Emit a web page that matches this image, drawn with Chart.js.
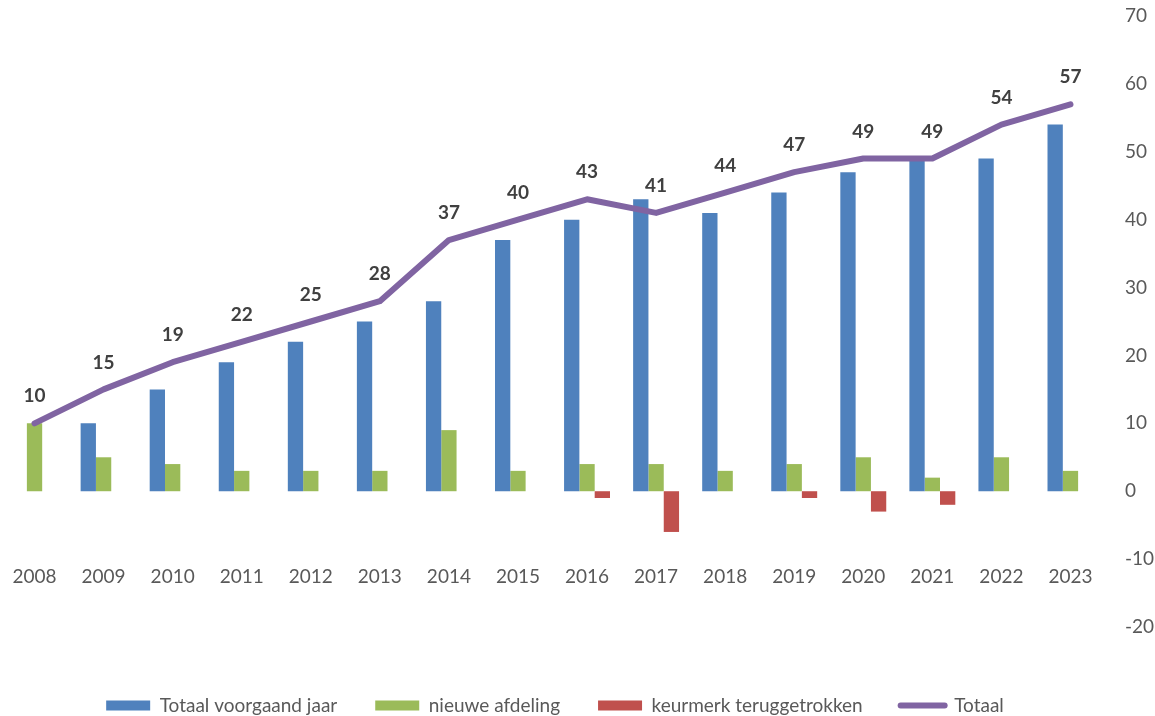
<!DOCTYPE html>
<html>
<head>
<meta charset="utf-8">
<script src="https://cdn.jsdelivr.net/npm/chart.js@4"></script>
<style>
  html, body { margin: 0; padding: 0; background: #ffffff; }
  #wrap { width: 1155px; height: 716px; position: relative; }
</style>
</head>
<body>
<div id="wrap"><canvas id="c" width="1155" height="716"></canvas></div>
<script>
const years = ['2008','2009','2010','2011','2012','2013','2014','2015','2016','2017','2018','2019','2020','2021','2022','2023'];
const totaalVoorgaandJaar = [0, 10, 15, 19, 22, 25, 28, 37, 40, 43, 41, 44, 47, 49, 49, 54];
const nieuweAfdeling = [10, 5, 4, 3, 3, 3, 9, 3, 4, 4, 3, 4, 5, 2, 5, 3];
const keurmerkTeruggetrokken = [null, null, null, null, null, null, null, null, -1, -6, null, -1, -3, -2, null, null];
const totaal = [10, 15, 19, 22, 25, 28, 37, 40, 43, 41, 44, 47, 49, 49, 54, 57];
const seriesNames = ['Totaal voorgaand jaar', 'nieuwe afdeling', 'keurmerk teruggetrokken', 'Totaal'];
const yTicks = { min: -20, max: 70, step: 10 };

const FONT = 'Lato, "Liberation Sans", sans-serif';
const TXT = '#595959';

const lineLabels = {
  id: 'lineLabels',
  afterDatasetsDraw(chart) {
    const ctx = chart.ctx;
    const meta = chart.getDatasetMeta(3);
    if (!meta || meta.hidden) return;
    ctx.save();
    ctx.font = 'bold 19px ' + FONT;
    ctx.fillStyle = '#404040';
    ctx.textAlign = 'center';
    ctx.textBaseline = 'middle';
    meta.data.forEach((pt, i) => {
      ctx.fillText(String(totaal[i]), pt.x, pt.y - 27);
    });
    ctx.restore();
  }
};

new Chart(document.getElementById('c'), {
  data: {
    labels: years,
    datasets: [
      { type: 'bar', label: seriesNames[0], data: totaalVoorgaandJaar, backgroundColor: '#4F81BD', order: 1, xAxisID: 'x', yAxisID: 'y' },
      { type: 'bar', label: seriesNames[1], data: nieuweAfdeling, backgroundColor: '#9BBB59', order: 1, xAxisID: 'x', yAxisID: 'y' },
      { type: 'bar', label: seriesNames[2], data: keurmerkTeruggetrokken, backgroundColor: '#C0504D', order: 1, xAxisID: 'x', yAxisID: 'y' },
      { type: 'line', label: seriesNames[3], data: totaal, borderColor: '#8064A2', backgroundColor: '#8064A2',
        borderWidth: 6, pointRadius: 0, borderCapStyle: 'round', borderJoinStyle: 'round', tension: 0, order: 0, xAxisID: 'x', yAxisID: 'y' }
    ]
  },
  options: {
    responsive: false,
    animation: false,
    layout: { padding: { top: 16, left: -45, right: 0, bottom: -9 } },
    datasets: { bar: { categoryPercentage: 0.665, barPercentage: 1.0, borderWidth: 0 } },
    scales: {
      x: {
        position: { y: -10.3 },
        offset: true,
        grid: { display: false, drawTicks: false },
        border: { display: false },
        ticks: { color: TXT, font: { family: FONT, size: 19 }, padding: 4, maxRotation: 0, autoSkip: false }
      },
      xSpace: {
        type: 'category',
        position: 'bottom',
        offset: true,
        grid: { display: false, drawTicks: false },
        border: { display: false },
        ticks: { display: false },
        afterFit(scale) { scale.height = 31; }
      },
      ySpace: {
        type: 'linear',
        position: 'left',
        grid: { display: false, drawTicks: false },
        border: { display: false },
        ticks: { display: false },
        afterFit(scale) { scale.width = 45; scale.paddingTop = 0; scale.paddingBottom = 0; }
      },
      y: {
        position: 'right',
        min: yTicks.min, max: yTicks.max,
        grid: { display: false, drawTicks: false },
        border: { display: false },
        ticks: { stepSize: yTicks.step, color: TXT, font: { family: FONT, size: 19 }, padding: 20 },
        afterFit(scale) { scale.width = 50; scale.paddingTop = 0; scale.paddingBottom = 0; }
      }
    },
    plugins: {
      tooltip: { enabled: false },
      legend: {
        position: 'bottom',
        labels: {
          color: TXT,
          font: { family: FONT, size: 19 },
          padding: 38,
          usePointStyle: true,
          pointStyleWidth: 44,
          boxHeight: 10,
          generateLabels(chart) {
            const items = Chart.defaults.plugins.legend.labels.generateLabels(chart);
            items.sort((a, b) => a.datasetIndex - b.datasetIndex);
            items.forEach((it) => {
              if (it.datasetIndex === 3) {
                it.pointStyle = 'line';
                it.strokeStyle = '#8064A2';
                it.lineWidth = 6;
                it.lineCap = 'round';
              } else {
                it.pointStyle = 'rect';
                it.lineWidth = 0;
              }
            });
            return items;
          }
        }
      }
    }
  },
  plugins: [lineLabels]
});
</script>
</body>
</html>
